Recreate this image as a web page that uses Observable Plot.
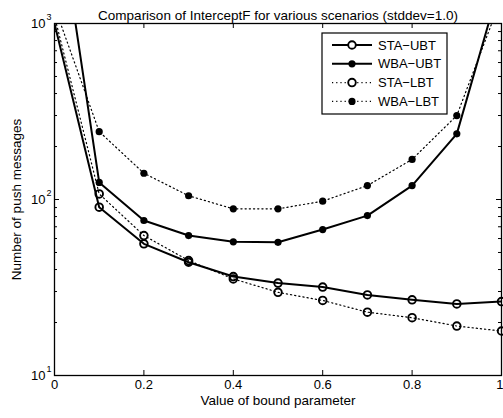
<!DOCTYPE html>
<html><head><meta charset="utf-8">
<script src="https://cdn.jsdelivr.net/npm/d3@7"></script>
<script src="https://cdn.jsdelivr.net/npm/@observablehq/plot@0.6"></script>
<style>body{margin:0;background:#fff} svg{display:block}</style>
</head><body><div id="chart"></div>
<script>
// ---- data ----
const bound  = [0, 0.1, 0.2, 0.3, 0.4, 0.5, 0.6, 0.7, 0.8, 0.9, 1.0];
const staUBT = [1000, 90.4, 56, 44, 36.5, 33.5, 31.8, 28.7, 26.9, 25.5, 26.3];
const wbaUBT = [6300, 125, 76, 62.4, 57.5, 57.1, 67.5, 81, 120, 236, 1800];
const staLBT = [1100, 107.6, 62.4, 45, 35.4, 29.7, 26.7, 22.9, 21.3, 19.1, 17.9];
const wbaLBT = [1250, 243, 141, 105, 88.5, 88.5, 97.8, 120, 169, 300, 1400];
const seriesNames = ["STA\u2212UBT", "WBA\u2212UBT", "STA\u2212LBT", "WBA\u2212LBT"];
const xTicks = [0, 0.2, 0.4, 0.6, 0.8, 1];
const xTickLabels = ["0", "0.2", "0.4", "0.6", "0.8", "1"];
const yMajor = [10, 100, 1000];
const yExponents = ["1", "2", "3"];
const yMinor = [20,30,40,50,60,70,80,90,200,300,400,500,600,700,800,900];
const title = "Comparison of InterceptF for various scenarios (stddev=1.0)";
const xLabel = "Value of bound parameter";
const yLabel = "Number of push messages";

// ---- layout ----
const W = 503, H = 418, mt = 23, mb = 43, ml = 54, mr = 2;
const fw = W - ml - mr, fh = H - mt - mb;
const font = "'Liberation Sans', Arial, Helvetica, sans-serif";

const styles = [
  {dash: null, width: 2, open: true},
  {dash: null, width: 2, open: false},
  {dash: "1.2,3", width: 1.2, open: true},
  {dash: "1.2,3", width: 1.2, open: false}
];
const allSeries = [staUBT, wbaUBT, staLBT, wbaLBT];
const rows = (vals, s) => bound.map((b, i) => ({x: b, y: vals[i], s}));
const inRange = d => d.y >= 10 && d.y < 1000;

const marks = [];
allSeries.forEach((vals, i) => {
  const st = styles[i];
  const data = rows(vals, seriesNames[i]);
  marks.push(Plot.line(data, {x: "x", y: "y", stroke: "#000", strokeWidth: st.width,
    strokeDasharray: st.dash, clip: true}));
});
allSeries.forEach((vals, i) => {
  const st = styles[i];
  const data = rows(vals, seriesNames[i]).filter(inRange);
  marks.push(st.open
    ? Plot.dot(data, {x: "x", y: "y", r: 3.8, stroke: "#000", strokeWidth: 1.9, fill: "none"})
    : Plot.dot(data, {x: "x", y: "y", r: 3.6, fill: "#000", stroke: "none"}));
});

// ticks (inward, MATLAB style)
marks.push(
  Plot.tickX(xTicks, {x: d => d, stroke: "#000", insetTop: fh - 5}),
  Plot.tickX(xTicks, {x: d => d, stroke: "#000", insetBottom: fh - 5}),
  Plot.tickY(yMajor, {y: d => d, stroke: "#000", insetRight: fw - 5}),
  Plot.tickY(yMajor, {y: d => d, stroke: "#000", insetLeft: fw - 5}),
  Plot.tickY(yMinor, {y: d => d, stroke: "#000", insetRight: fw - 3}),
  Plot.tickY(yMinor, {y: d => d, stroke: "#000", insetLeft: fw - 3}),
  Plot.frame({stroke: "#000", strokeWidth: 1.3})
);

// tick labels
marks.push(
  Plot.text(xTicks.slice(0, -1), {x: d => d, frameAnchor: "bottom", dy: 13,
    text: (d, i) => xTickLabels[i], fontSize: 13, fill: "#000"}),
  Plot.text(xTicks.slice(-1), {x: d => d, frameAnchor: "bottom", dy: 13, dx: 2, textAnchor: "end",
    text: () => xTickLabels[xTickLabels.length - 1], fontSize: 13, fill: "#000"}),
  Plot.text(yMajor, {y: d => d, frameAnchor: "left", dx: -9, textAnchor: "end", text: () => "10",
    fontSize: 13, fill: "#000"}),
  Plot.text(yMajor, {y: d => d, frameAnchor: "left", dx: -8, dy: -6, textAnchor: "start",
    text: (d, i) => yExponents[i], fontSize: 9, fill: "#000"}),
  Plot.text([title], {frameAnchor: "top", dy: -13, text: d => d, fontSize: 13.5, fill: "#000"}),
  Plot.text([xLabel], {frameAnchor: "bottom", dy: 29, text: d => d, fontSize: 13.5, fill: "#000"}),
  Plot.text([yLabel], {frameAnchor: "left", dx: -38, rotate: -90, textAnchor: "middle",
    text: d => d, fontSize: 13.5, fill: "#000"})
);

const chart = Plot.plot({
  width: W, height: H, marginTop: mt, marginBottom: mb, marginLeft: ml, marginRight: mr,
  style: {fontFamily: font, fontSize: "12px", color: "#000", background: "#fff", overflow: "visible"},
  x: {domain: [0, 1], axis: null},
  y: {type: "log", domain: [10, 1000], axis: null},
  marks
});
document.getElementById("chart").appendChild(chart);

// ---- legend ----
const svg = d3.select(chart);
const lg = svg.append("g").attr("font-family", font).attr("font-size", 13).attr("text-anchor", "start");
const bx = 322, by = 33, bw = 125, bh = 81;
lg.append("rect").attr("x", bx).attr("y", by).attr("width", bw).attr("height", bh)
  .attr("fill", "#fff").attr("stroke", "#000").attr("stroke-width", 1.2);
seriesNames.forEach((name, i) => {
  const st = styles[i];
  const yy = by + 12 + i * 18.8;
  lg.append("line").attr("x1", bx + 10).attr("x2", bx + 50).attr("y1", yy).attr("y2", yy)
    .attr("stroke", "#000").attr("stroke-width", st.width)
    .attr("stroke-dasharray", st.dash);
  if (st.open) lg.append("circle").attr("cx", bx + 30).attr("cy", yy).attr("r", 3.8)
    .attr("fill", "#fff").attr("stroke", "#000").attr("stroke-width", 1.9);
  else lg.append("circle").attr("cx", bx + 30).attr("cy", yy).attr("r", 3.6).attr("fill", "#000");
  lg.append("text").attr("x", bx + 56).attr("y", yy).attr("dy", "0.35em").attr("fill", "#000")
    .attr("text-anchor", "start").text(name);
});
</script>
</body></html>
